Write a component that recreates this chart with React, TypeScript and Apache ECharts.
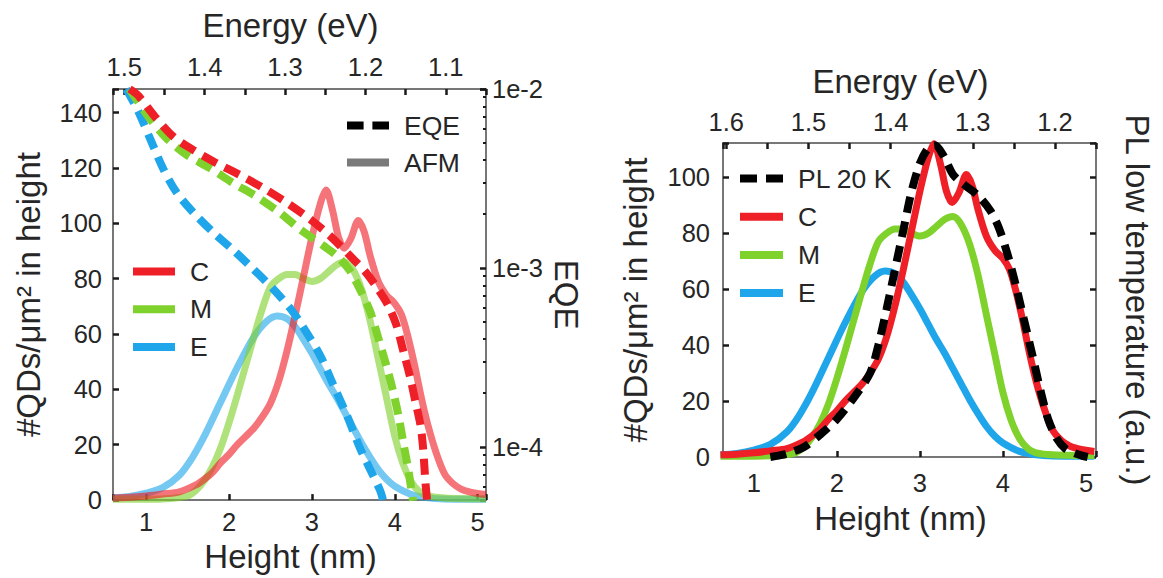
import React, { useEffect, useRef } from 'react';
import * as echarts from 'echarts';

// ---------- AFM height distributions (#QDs/µm² in height) ----------
const HEIGHT_C = [0.6, 0.8, 1.0, 1.2, 1.4, 1.6, 1.7, 1.8, 1.9, 2.0, 2.1, 2.2, 2.3, 2.4, 2.5, 2.6, 2.7, 2.8, 2.9, 3.0, 3.1, 3.17, 3.25, 3.32, 3.39, 3.47, 3.56, 3.63, 3.7, 3.8, 3.9, 4.0, 4.08, 4.15, 4.24, 4.32, 4.4, 4.5, 4.6, 4.7, 4.8, 4.9, 5.0, 5.1];
const AFM_C = [0.8, 1.0, 1.5, 2.2, 3, 5.5, 7.5, 10, 13.5, 16.5, 20, 23, 26, 30, 35, 43, 54, 67, 81, 95, 107, 112, 104.5, 95, 91, 94.5, 101, 97, 88.5, 79, 74, 71, 67, 60, 48.5, 37, 27, 17, 9.5, 6, 4, 3, 2.4, 2];

const HEIGHT_M = [0.6, 1.0, 1.3, 1.5, 1.6, 1.7, 1.8, 1.9, 2.0, 2.1, 2.2, 2.3, 2.4, 2.5, 2.6, 2.7, 2.8, 2.9, 3.0, 3.1, 3.2, 3.3, 3.4, 3.5, 3.6, 3.7, 3.8, 3.9, 4.0, 4.1, 4.2, 4.3, 4.4, 4.6, 5.1];
const AFM_M = [0.3, 0.3, 0.6, 1.5, 3.5, 7, 12, 19, 28, 38, 48.5, 59, 69, 77, 80, 81.5, 81.5, 80, 79, 80, 82.5, 85, 86, 83, 76, 65, 51, 37, 23, 13, 6.5, 3, 1.5, 0.8, 0.5];

const HEIGHT_E = [0.6, 0.8, 1.0, 1.2, 1.4, 1.55, 1.7, 1.9, 2.1, 2.3, 2.45, 2.58, 2.7, 2.8, 2.9, 3.0, 3.1, 3.2, 3.3, 3.4, 3.5, 3.6, 3.7, 3.8, 3.9, 4.0, 4.2, 4.4, 4.6, 5.1];
const AFM_E = [0.8, 1.3, 2.5, 4.5, 9, 15, 23, 35.5, 48, 59, 64.5, 66.5, 65.5, 62.5, 58, 53, 47.5, 42, 37, 31.5, 26, 20.5, 15.5, 11, 7.5, 5, 2, 0.8, 0.4, 0.3];

// ---------- PL at 20 K (a.u.) ----------
const HEIGHT_PL = [1.2, 1.3, 1.4, 1.6, 1.8, 2.0, 2.2, 2.4, 2.5, 2.6, 2.7, 2.8, 2.9, 3.0, 3.1, 3.18, 3.28, 3.4, 3.55, 3.7, 3.85, 3.95, 4.05, 4.15, 4.25, 4.35, 4.45, 4.55, 4.65, 4.75, 4.85, 4.95, 5.02];
const PL_20K = [0, 0.5, 1.2, 3.5, 8, 13.5, 21, 30, 40, 53, 67, 81, 95, 105, 110.5, 111.5, 108, 101, 97, 93.5, 88, 82, 73, 62, 49.5, 37, 24, 13, 6.5, 3, 1.5, 0.5, 0];

// ---------- EQE (log scale) ----------
const HEIGHT_EQE_C = [0.8, 0.905, 1.11, 1.33, 1.57, 1.85, 2.13, 2.41, 2.7, 2.98, 3.22, 3.5, 3.66, 3.8, 3.92, 4.02, 4.1, 4.19, 4.25, 4.31, 4.34, 4.37, 4.39];
const EQE_C = [1.0e-2, 9.18e-3, 6.97e-3, 5.41e-3, 4.56e-3, 3.85e-3, 3.31e-3, 2.8e-3, 2.31e-3, 1.87e-3, 1.51e-3, 1.12e-3, 9.33e-4, 7.59e-4, 6.17e-4, 4.79e-4, 3.47e-4, 2.4e-4, 1.78e-4, 1.32e-4, 1.0e-4, 6.31e-5, 5.01e-5];

const HEIGHT_EQE_M = [0.8, 0.9, 1.03, 1.25, 1.49, 1.77, 2.05, 2.33, 2.61, 2.86, 3.14, 3.3, 3.45, 3.58, 3.7, 3.8, 3.9, 3.98, 4.05, 4.1, 4.16, 4.22];
const EQE_M = [1.0e-2, 8.51e-3, 6.97e-3, 5.28e-3, 4.28e-3, 3.61e-3, 2.98e-3, 2.51e-3, 2.04e-3, 1.64e-3, 1.33e-3, 1.17e-3, 9.77e-4, 7.59e-4, 5.75e-4, 4.07e-4, 2.82e-4, 2.04e-4, 1.45e-4, 1.07e-4, 7.59e-5, 5.01e-5];

const HEIGHT_EQE_E = [0.76, 0.9, 1.05, 1.21, 1.37, 1.57, 1.81, 2.05, 2.29, 2.53, 2.74, 2.88, 3.1, 3.26, 3.42, 3.58, 3.82, 3.86];
const EQE_E = [1.0e-2, 7.59e-3, 5.25e-3, 3.55e-3, 2.63e-3, 2.04e-3, 1.58e-3, 1.26e-3, 9.89e-4, 7.66e-4, 5.93e-4, 4.79e-4, 3.24e-4, 2.21e-4, 1.51e-4, 9.86e-5, 5.75e-5, 5.01e-5];

// ---------- axis ranges ----------
const HEIGHT_RANGE_L = [0.6, 5.1];
const ENERGY_RANGE_L = [1.05, 1.514];
const COUNT_MAX_L = 148.5;
const EQE_RANGE = [5.05e-5, 1e-2];
const HEIGHT_RANGE_R = [0.63, 5.12];
const ENERGY_RANGE_R = [1.15, 1.604];
const COUNT_MAX_R = 112.3;

const RED = '#ee1f26';
const GREEN = '#7fd12c';
const BLUE = '#1fa6ea';
const FONT = "'Liberation Sans', Arial, Helvetica, sans-serif";
const TXT = '#262626';
const DASH_ICON = 'path://M0,0H17V8H0Z M26,0H43V8H26Z';

const zip = (xs: number[], ys: number[]) => xs.map((x, i) => [x, ys[i]]);

const near = (v: number, step: number) => Math.abs(v / step - Math.round(v / step)) < 1e-6;
const intFmt = (v: number) => (near(v, 1) ? String(Math.round(v)) : '');
const twentyFmt = (v: number) => (near(v, 20) ? String(Math.round(v)) : '');
const tenthFmt = (v: number) => (near(v, 0.1) ? (Math.round(v * 10) / 10).toFixed(1) : '');
const logFmt = (v: number) => {
  const l = Math.log10(v);
  return Math.abs(l - Math.round(l)) < 1e-6 ? `1e${Math.round(l)}` : '';
};

const axisLine = { show: true, onZero: false, lineStyle: { color: '#4a4a4a', width: 1.5 } };
const axisTick = { show: true, inside: true, length: 6, lineStyle: { color: '#1a1a1a', width: 2.5 } };
const labelBase = { fontSize: 25.5, color: TXT, fontFamily: FONT };
const nameStyle = { fontSize: 33, color: TXT, fontFamily: FONT };
const nameStyleShift = { ...nameStyle, padding: [0, 18, 0, 0] };

const line = (name: string, xi: number, yi: number, data: number[][], color: string, extra: any = {}) => ({
  type: 'line',
  name,
  xAxisIndex: xi,
  yAxisIndex: yi,
  data,
  symbol: 'none',
  smooth: 0.3,
  clip: true,
  silent: true,
  itemStyle: { color },
  lineStyle: { color, width: 7, ...(extra.lineStyle || {}) },
});

const legendText = { fontSize: 26.5, color: TXT, fontFamily: FONT, padding: [0, 0, 0, 10], lineHeight: 26 };
const legendBase = { orient: 'vertical', padding: 0, itemHeight: 8, selectedMode: false, textStyle: legendText, itemStyle: { borderWidth: 0 } };

const option: any = {
  animation: false,
  backgroundColor: '#fff',
  grid: [
    { left: 113, top: 89, width: 373, height: 415, show: false },
    { left: 723, top: 143, width: 373, height: 314, show: false },
  ],
  xAxis: [
    {
      type: 'value', gridIndex: 0, position: 'bottom', min: HEIGHT_RANGE_L[0], max: HEIGHT_RANGE_L[1], splitNumber: 5,
      name: 'Height (nm)', nameLocation: 'middle', nameGap: 38, nameTextStyle: nameStyleShift,
      axisLine, axisTick, splitLine: { show: false },
      axisLabel: { ...labelBase, margin: 9, formatter: intFmt },
    },
    {
      type: 'value', gridIndex: 0, position: 'top', min: ENERGY_RANGE_L[0], max: ENERGY_RANGE_L[1], interval: 0.05, inverse: true,
      name: 'Energy (eV)', nameLocation: 'middle', nameGap: 47, nameTextStyle: nameStyleShift,
      axisLine, axisTick, splitLine: { show: false },
      axisLabel: { ...labelBase, margin: 9, formatter: tenthFmt },
    },
    {
      type: 'value', gridIndex: 1, position: 'bottom', min: HEIGHT_RANGE_R[0], max: HEIGHT_RANGE_R[1], splitNumber: 5,
      name: 'Height (nm)', nameLocation: 'middle', nameGap: 45, nameTextStyle: nameStyleShift,
      axisLine, axisTick, splitLine: { show: false },
      axisLabel: { ...labelBase, margin: 13, formatter: intFmt },
    },
    {
      type: 'value', gridIndex: 1, position: 'top', min: ENERGY_RANGE_R[0], max: ENERGY_RANGE_R[1], interval: 0.05, inverse: true,
      name: 'Energy (eV)', nameLocation: 'middle', nameGap: 45, nameTextStyle: nameStyleShift,
      axisLine, axisTick, splitLine: { show: false },
      axisLabel: { ...labelBase, margin: 8, formatter: tenthFmt },
    },
  ],
  yAxis: [
    {
      type: 'value', gridIndex: 0, position: 'left', min: 0, max: COUNT_MAX_L, interval: 20,
      name: '#QDs/μm² in height', nameLocation: 'middle', nameGap: 68, nameRotate: 90, nameTextStyle: nameStyle,
      axisLine, axisTick, splitLine: { show: false },
      axisLabel: { ...labelBase, margin: 11, formatter: twentyFmt },
    },
    {
      type: 'log', logBase: 10, gridIndex: 0, position: 'right', min: EQE_RANGE[0], max: EQE_RANGE[1],
      name: 'EQE', nameLocation: 'middle', nameGap: 64, nameRotate: -90, nameTextStyle: nameStyle,
      axisLine, axisTick, splitLine: { show: false },
      minorTick: { show: true, splitNumber: 9, length: 3, lineStyle: { color: '#1a1a1a', width: 2 } },
      axisLabel: { ...labelBase, margin: 6, formatter: logFmt },
    },
    {
      type: 'value', gridIndex: 1, position: 'left', min: 0, max: COUNT_MAX_R, interval: 20,
      name: '#QDs/μm² in height', nameLocation: 'middle', nameGap: 71, nameRotate: 90, nameTextStyle: nameStyle,
      axisLine, axisTick, splitLine: { show: false },
      axisLabel: { ...labelBase, margin: 13, formatter: twentyFmt },
    },
    {
      type: 'value', gridIndex: 1, position: 'right', min: 0, max: COUNT_MAX_R, interval: 20,
      name: 'PL low temperature (a.u.)', nameLocation: 'middle', nameGap: 25, nameRotate: -90, nameTextStyle: nameStyle,
      axisLine, axisTick, splitLine: { show: false },
      axisLabel: { show: false },
    },
  ],
  legend: [
    {
      ...legendBase,
      data: [{ name: 'EQE', icon: DASH_ICON }, { name: 'AFM', icon: 'rect' }],
      left: 347, top: 112, itemWidth: 42, itemGap: 10,
    },
    {
      ...legendBase,
      data: [{ name: 'C', icon: 'rect' }, { name: 'M', icon: 'rect' }, { name: 'E', icon: 'rect' }],
      left: 133, top: 258, itemWidth: 42, itemGap: 10.7,
    },
    {
      ...legendBase,
      data: [{ name: 'PL 20 K', icon: DASH_ICON }, { name: 'C', icon: 'rect' }, { name: 'M', icon: 'rect' }, { name: 'E', icon: 'rect' }],
      left: 740, top: 165, itemWidth: 43, itemGap: 11.2,
    },
  ],
  series: [
    // right panel
    line('E', 2, 2, zip(HEIGHT_E, AFM_E), BLUE),
    line('M', 2, 2, zip(HEIGHT_M, AFM_M), GREEN),
    line('C', 2, 2, zip(HEIGHT_C, AFM_C), RED),
    line('PL 20 K', 2, 3, zip(HEIGHT_PL, PL_20K), '#000', { lineStyle: { width: 8, type: [16, 9] } }),
    // left panel: AFM (translucent)
    line('E (AFM)', 0, 0, zip(HEIGHT_E, AFM_E), BLUE, { lineStyle: { opacity: 0.62 } }),
    line('M (AFM)', 0, 0, zip(HEIGHT_M, AFM_M), GREEN, { lineStyle: { opacity: 0.62 } }),
    line('C (AFM)', 0, 0, zip(HEIGHT_C, AFM_C), RED, { lineStyle: { opacity: 0.62 } }),
    // left panel: EQE (dashed, log axis)
    line('E (EQE)', 0, 1, zip(HEIGHT_EQE_E, EQE_E), BLUE, { lineStyle: { width: 8, type: [16, 9] } }),
    line('M (EQE)', 0, 1, zip(HEIGHT_EQE_M, EQE_M), GREEN, { lineStyle: { width: 8, type: [16, 9] } }),
    line('C (EQE)', 0, 1, zip(HEIGHT_EQE_C, EQE_C), RED, { lineStyle: { width: 8, type: [16, 9] } }),
    // legend keys
    line('EQE', 0, 0, [], '#000'),
    line('AFM', 0, 0, [], '#7a7a7a'),
  ],
};

export default function App() {
  const ref = useRef<HTMLDivElement>(null);
  useEffect(() => {
    const chart = echarts.init(ref.current as HTMLDivElement, null, { renderer: 'svg' });
    chart.setOption(option);
    return () => chart.dispose();
  }, []);
  return (
    <div
      ref={ref}
      style={{ position: 'absolute', left: 0, top: 0, width: 1163, height: 578, background: '#fff' }}
    />
  );
}
